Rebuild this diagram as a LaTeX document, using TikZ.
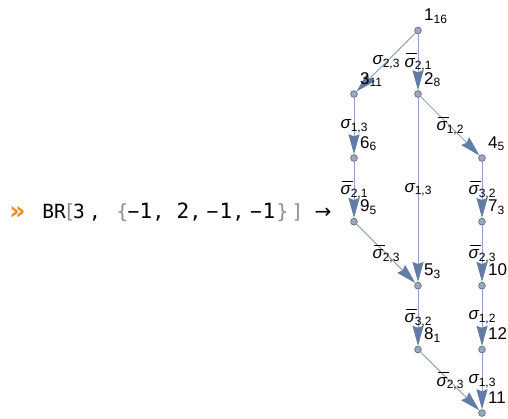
\documentclass[tikz,border=0pt]{standalone}
\usepackage{fontspec}
\setmainfont{Liberation Sans}
\newfontfamily\monof{DejaVu Sans Mono}
\newfontfamily\arrf{DejaVu Sans}
\usetikzlibrary{arrows.meta}
\definecolor{edgec}{RGB}{140,162,198}
\definecolor{arrc}{RGB}{98,125,165}
\definecolor{vfill}{RGB}{155,168,190}
\definecolor{vdraw}{RGB}{85,98,122}
\definecolor{orng}{RGB}{245,135,25}
\definecolor{brk}{RGB}{140,140,140}
\newcommand\sbs[1]{\raisebox{-2.7pt}{\fontsize{12}{12}\selectfont #1}}
\newcommand\sg[1]{{\itshape σ}\sbs{#1}}
\newcommand\sgb[1]{\rlap{\kern1.6pt\raisebox{12.8pt}{\rule{10.5pt}{1.1pt}}}{\itshape σ}\sbs{#1}}
\tikzset{
  vtx/.style={circle, draw=vdraw, fill=vfill, line width=0.6pt, minimum size=6.8pt, inner sep=0pt},
  edg/.style={draw=edgec, line width=1pt, -{Stealth[length=20pt,width=11pt,inset=2pt,color=arrc,fill=arrc]}},
  elab/.style={font=\fontsize{17}{17}\selectfont, inner sep=0pt, text=black},
  vlab/.style={font=\fontsize{17}{17}\selectfont, inner sep=0pt, anchor=base west},
  tok/.style={font=\monof\fontsize{19.5}{19.5}\selectfont, inner sep=0pt, anchor=base},
  num/.style={font=\monof\fontsize{21}{21}\selectfont, inner sep=0pt, anchor=base},
  brk/.style={tok, text=brk}
}
\begin{document}
\begin{tikzpicture}[x=1pt,y=-1pt]
\useasboundingbox (0,0) rectangle (508,418);
% vertices
\node[vtx] (n1) at (418,30.5) {};
\node[vtx] (n3) at (354,94) {};
\node[vtx] (n2) at (418,94) {};
\node[vtx] (n4) at (482,158) {};
\node[vtx] (n6) at (354,158) {};
\node[vtx] (n9) at (354,221.7) {};
\node[vtx] (n7) at (482,221.7) {};
\node[vtx] (n5) at (418,285.7) {};
\node[vtx] (n10) at (482,285.7) {};
\node[vtx] (n8) at (418,349.5) {};
\node[vtx] (n12) at (482,349.5) {};
\node[vtx] (n11) at (482,413) {};
% edges
\draw[edg] (n1) -- node[elab]{\sg{2,3}} (n3);
\draw[edg] (n1) -- node[elab]{\sgb{2,1}} (n2);
\draw[edg] (n3) -- node[elab]{\sg{1,3}} (n6);
\draw[edg] (n2) -- node[elab]{\sgb{1,2}} (n4);
\draw[edg] (n2) -- node[elab]{\sg{1,3}} (n5);
\draw[edg] (n6) -- node[elab]{\sgb{2,1}} (n9);
\draw[edg] (n9) -- node[elab]{\sgb{2,3}} (n5);
\draw[edg] (n4) -- node[elab]{\sgb{3,2}} (n7);
\draw[edg] (n7) -- node[elab]{\sgb{2,3}} (n10);
\draw[edg] (n5) -- node[elab]{\sgb{3,2}} (n8);
\draw[edg] (n10) -- node[elab]{\sg{1,2}} (n12);
\draw[edg] (n8) -- node[elab]{\sgb{2,3}} (n11);
\draw[edg] (n12) -- node[elab]{\sg{1,3}} (n11);
% vertex labels
\path (n1) ++(6,-10) node[vlab] (l1) {1\sbs{16}};
\path (n3) ++(6,-10) node[vlab] (l3) {3\sbs{11}};
\path (n2) ++(6,-10) node[vlab] (l2) {2\sbs{8}};
\path (n4) ++(6,-10) node[vlab] (l4) {4\sbs{5}};
\path (n6) ++(6,-10) node[vlab] (l6) {6\sbs{6}};
\path (n9) ++(6,-10) node[vlab] (l9) {9\sbs{5}};
\path (n7) ++(6,-10) node[vlab] (l7) {7\sbs{3}};
\path (n5) ++(6,-10) node[vlab] (l5) {5\sbs{3}};
\path (n10) ++(6,-10) node[vlab] (l10) {10};
\path (n8) ++(6,-10) node[vlab] (l8) {8\sbs{1}};
\path (n12) ++(6,-10) node[vlab] (l12) {12};
\path (n11) ++(6,-10) node[vlab] (l11) {11};
% input line
\node[anchor=base, inner sep=0pt, text=orng, font=\arrf\bfseries\fontsize{25}{25}\selectfont] (pr) at (17.5,219) {»};
\node[tok] (t1) at (54,218) {BR};
\node[brk] (t2) at (69.5,218) {[};
\node[tok] (t3) at (79,218) {3};
\node[tok] (t4) at (95,218) {,};
\node[brk] (t5) at (122.5,218) {\{};
\node[tok] (t6) at (133.5,218) {−};
\node[num] (t7) at (146,218) {1};
\node[tok] (t8) at (158.5,218) {,};
\node[num] (t9) at (183,218) {2};
\node[tok] (t10) at (195.5,218) {,};
\node[tok] (t11) at (212.5,218) {−};
\node[num] (t12) at (226,218) {1};
\node[tok] (t13) at (238.5,218) {,};
\node[tok] (t14) at (256,218) {−};
\node[num] (t15) at (269,218) {1};
\node[brk] (t16) at (282.5,218) {\}};
\node[brk] (t17) at (297.5,218) {]};
\node[anchor=base, inner sep=0pt, font=\arrf\fontsize{20}{20}\selectfont] (t18) at (323,218) {→};
\end{tikzpicture}
\end{document}
